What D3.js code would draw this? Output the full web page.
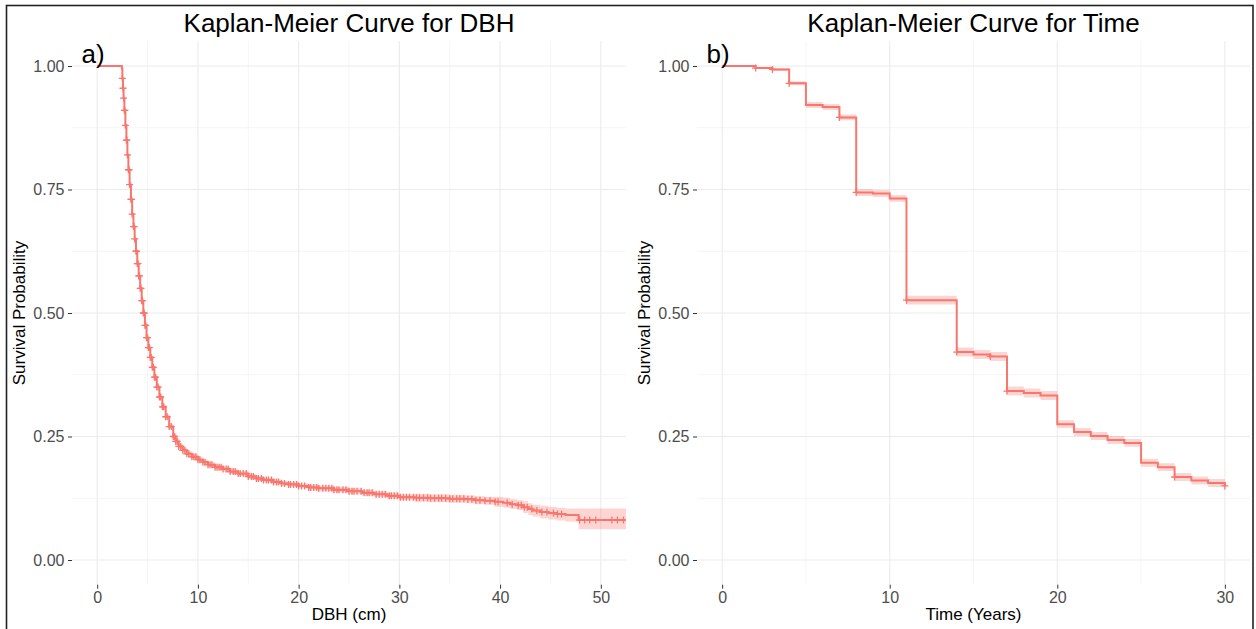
<!DOCTYPE html>
<html>
<head>
<meta charset="utf-8">
<script src="https://cdn.jsdelivr.net/npm/d3@7"></script>
<style>
  body { margin: 0; background: #fff; }
  svg { display: block; font-family: "Liberation Sans", Arial, Helvetica, sans-serif; }
  .grid-major { stroke: #ebebeb; stroke-width: 1.1; }
  .grid-minor { stroke: #f3f3f3; stroke-width: 0.8; }
  .axis text { fill: #4d4d4d; font-size: 16px; font-family: "Liberation Sans", Arial, sans-serif; }
  .axis line { stroke: #333; stroke-width: 1; }
  .axis path { display: none; }
  .km-band { fill: #F8766D; fill-opacity: 0.3; stroke: none; }
  .km-line { fill: none; stroke: #F8766D; stroke-width: 2; }
  .censor { fill: none; stroke: #F8766D; stroke-width: 1.3; }
  .title, .tag { font-size: 26px; fill: #000; }
  .axis-title { font-size: 17px; fill: #000; }
</style>
</head>
<body>
<svg width="1256" height="629"></svg>
<script>
// ---- data ----

// a) survival against DBH (cm)
var dbhTime = [0, 2.45, 2.5, 2.56, 2.62, 2.7, 2.8, 2.9, 3.0, 3.1, 3.22, 3.35, 3.47, 3.6, 3.72, 3.85, 3.98, 4.12, 4.27, 4.42,
  4.58, 4.74, 4.9, 5.08, 5.27, 5.47, 5.68, 5.92, 6.18, 6.47, 6.8, 7.15, 7.55, 7.8, 8.1, 8.5, 8.9, 9.4, 10, 10.5,
  11, 11.7, 12.5, 13.2, 14, 15, 15.8, 16.5, 17.5, 18.3, 19, 20, 21, 22, 23.5, 25, 26.3, 27.5, 28.8, 30,
  31.5, 33, 35, 36.5, 37.5, 38.5, 39.5, 40.3, 41, 41.7, 42.3, 42.8, 43.2, 44, 44.8, 45.6, 46.5, 47.8, 55];
var dbhSurv = [1.0, 0.995, 0.975, 0.955, 0.935, 0.91, 0.88, 0.85, 0.82, 0.79, 0.76, 0.73, 0.70, 0.675, 0.65, 0.625, 0.60, 0.575, 0.55, 0.525,
  0.50, 0.475, 0.45, 0.43, 0.41, 0.39, 0.37, 0.35, 0.33, 0.31, 0.29, 0.27, 0.25, 0.24, 0.23, 0.222, 0.215, 0.209, 0.203, 0.198,
  0.193, 0.188, 0.184, 0.179, 0.175, 0.169, 0.165, 0.162, 0.158, 0.155, 0.153, 0.150, 0.147, 0.145, 0.142, 0.139, 0.136, 0.133, 0.130, 0.127,
  0.126, 0.125, 0.124, 0.123, 0.121, 0.120, 0.118, 0.116, 0.113, 0.111, 0.107, 0.103, 0.100, 0.097, 0.095, 0.093, 0.091, 0.081, 0.081];
var dbhLower = [1.0, 0.993, 0.971, 0.951, 0.931, 0.906, 0.876, 0.846, 0.816, 0.786, 0.756, 0.726, 0.696, 0.671, 0.646, 0.621, 0.596, 0.571, 0.546, 0.521,
  0.495, 0.470, 0.445, 0.425, 0.405, 0.385, 0.365, 0.345, 0.325, 0.305, 0.285, 0.265, 0.245, 0.235, 0.225, 0.217, 0.210, 0.204, 0.198, 0.193,
  0.188, 0.183, 0.179, 0.174, 0.170, 0.164, 0.160, 0.157, 0.153, 0.150, 0.148, 0.145, 0.141, 0.139, 0.136, 0.133, 0.130, 0.127, 0.124, 0.121,
  0.118, 0.117, 0.116, 0.115, 0.113, 0.112, 0.108, 0.106, 0.103, 0.101, 0.095, 0.091, 0.088, 0.084, 0.082, 0.080, 0.078, 0.062, 0.062];
var dbhUpper = [1.0, 0.997, 0.979, 0.959, 0.939, 0.914, 0.884, 0.854, 0.824, 0.794, 0.764, 0.734, 0.704, 0.679, 0.654, 0.629, 0.604, 0.579, 0.554, 0.529,
  0.505, 0.480, 0.455, 0.435, 0.415, 0.395, 0.375, 0.355, 0.335, 0.315, 0.295, 0.275, 0.255, 0.245, 0.235, 0.227, 0.220, 0.214, 0.208, 0.203,
  0.198, 0.193, 0.189, 0.184, 0.180, 0.174, 0.170, 0.167, 0.163, 0.160, 0.158, 0.155, 0.153, 0.151, 0.148, 0.145, 0.142, 0.139, 0.136, 0.133,
  0.134, 0.133, 0.132, 0.131, 0.129, 0.128, 0.128, 0.126, 0.123, 0.121, 0.119, 0.115, 0.112, 0.110, 0.108, 0.106, 0.104, 0.104, 0.104];
// censored trees (+ marks)
var dbhCensor = [2.5, 2.56, 2.62, 2.7, 2.75, 2.8, 2.9, 2.95, 3.0, 3.1, 3.16, 3.22, 3.35, 3.41, 3.47, 3.6, 3.66, 3.72, 3.85, 3.9,
  3.98, 4.05, 4.12, 4.2, 4.27, 4.35, 4.42, 4.5, 4.58, 4.66, 4.74, 4.82, 4.9, 5.0, 5.08, 5.18, 5.27, 5.37, 5.47, 5.58,
  5.68, 5.8, 5.92, 6.05, 6.18, 6.3, 6.47, 6.6, 6.8, 6.95, 7.15, 7.35, 7.55, 7.7, 7.8, 7.95, 8.1, 8.3, 8.5, 8.7,
  8.9, 9.1, 9.4, 9.6, 9.8, 10.0, 10.2, 10.5, 10.7, 11.0, 11.2, 11.4, 11.7, 11.9, 12.1, 12.3, 12.5, 12.8, 13.0, 13.2,
  13.5, 13.7, 14.0, 14.2, 14.5, 14.8, 15.0, 15.3, 15.5, 15.8, 16.0, 16.3, 16.5, 16.8, 17.0, 17.3, 17.5, 17.8, 18.0, 18.3,
  18.6, 19.0, 19.2, 19.5, 19.8, 20.0, 20.3, 20.6, 21.0, 21.2, 21.5, 21.8, 22.0, 22.4, 22.7, 23.0, 23.3, 23.5, 23.8, 24.0,
  24.4, 24.7, 25.0, 25.3, 25.5, 25.8, 26.2, 26.5, 26.8, 27.0, 27.3, 27.7, 28.0, 28.3, 28.6, 29.0, 29.2, 29.5, 29.8, 30.1,
  30.4, 30.7, 31.0, 31.4, 31.7, 32.0, 32.4, 32.8, 33.1, 33.5, 33.9, 34.2, 34.6, 35.0, 35.3, 35.7, 36.0, 36.4, 36.8, 37.2,
  37.6, 38.0, 38.5, 39.0, 39.5, 39.8, 40.7, 41.2, 41.8, 42.1, 42.4, 42.7, 43.15, 43.65, 44.15, 44.65, 45.3, 45.7, 46.1, 47.9,
  48.4, 48.9, 49.5, 51.1, 51.65, 52.25];
var dbhTicks = [0, 10, 20, 30, 40, 50];
var dbhMinor = [5, 15, 25, 35, 45];

// b) survival against time (years)
var yearTime = [0, 2, 3, 4, 5, 6, 7, 8, 9, 10, 11, 14, 15, 16, 17, 18, 19, 20, 21, 22, 23, 24, 25, 26, 27, 28, 29, 30];
var yearSurv = [1.0, 0.996, 0.993, 0.965, 0.921, 0.917, 0.896, 0.744, 0.742, 0.732, 0.526, 0.421, 0.416, 0.412,
  0.342, 0.338, 0.333, 0.275, 0.259, 0.251, 0.243, 0.237, 0.197, 0.188, 0.168, 0.161, 0.156, 0.150];
var yearLower = [1.0, 0.994, 0.990, 0.961, 0.915, 0.911, 0.890, 0.737, 0.735, 0.725, 0.517, 0.412, 0.407, 0.403,
  0.333, 0.329, 0.324, 0.267, 0.251, 0.243, 0.235, 0.229, 0.189, 0.180, 0.160, 0.153, 0.148, 0.142];
var yearUpper = [1.0, 0.998, 0.996, 0.969, 0.927, 0.923, 0.902, 0.751, 0.749, 0.739, 0.535, 0.430, 0.425, 0.421,
  0.351, 0.347, 0.342, 0.283, 0.267, 0.259, 0.251, 0.245, 0.205, 0.196, 0.176, 0.169, 0.164, 0.158];
var yearCensor = [2, 3, 4, 7, 8, 11, 14, 16, 17, 27, 30];
var yearTicks = [0, 10, 20, 30];
var yearMinor = [5, 15, 25];

var probTicks = [0, 0.25, 0.5, 0.75, 1];
var probMinor = [0.125, 0.375, 0.625, 0.875];

// ---- layout ----
var svg = d3.select('svg');

// outer frame of the figure
svg.append('rect')
    .attr('x', 6.5).attr('y', 5.5)
    .attr('width', 1246.5).attr('height', 700)
    .attr('fill', 'none').attr('stroke', '#222').attr('stroke-width', 1.6);

var panelTop = 41.3, panelBottom = 584.7;
var yScale = d3.scaleLinear().domain([-0.05, 1.05]).range([panelBottom, panelTop]);

var panels = [
    {id: 'dbh', x0: 72, x1: 626, domain: [-2.5, 52.5], ticks: dbhTicks, minor: dbhMinor,
     title: 'Kaplan-Meier Curve for DBH', tag: 'a)', xLabel: 'DBH (cm)',
     time: dbhTime, surv: dbhSurv, lower: dbhLower, upper: dbhUpper, censor: dbhCensor},
    {id: 'year', x0: 697, x1: 1250, domain: [-1.5, 31.5], ticks: yearTicks, minor: yearMinor,
     title: 'Kaplan-Meier Curve for Time', tag: 'b)', xLabel: 'Time (Years)',
     time: yearTime, surv: yearSurv, lower: yearLower, upper: yearUpper, censor: yearCensor}
];

panels.forEach(drawPanel);

function drawPanel(p) {
    var xScale = d3.scaleLinear().domain(p.domain).range([p.x0, p.x1]);
    var g = svg.append('g').attr('class', 'panel-' + p.id);

    // grid: minor first, then major
    g.selectAll('.vminor').data(p.minor).enter().append('line')
        .attr('class', 'grid-minor')
        .attr('x1', d => xScale(d)).attr('x2', d => xScale(d))
        .attr('y1', panelTop).attr('y2', panelBottom);
    g.selectAll('.hminor').data(probMinor).enter().append('line')
        .attr('class', 'grid-minor')
        .attr('x1', p.x0).attr('x2', p.x1)
        .attr('y1', d => yScale(d)).attr('y2', d => yScale(d));
    g.selectAll('.vmajor').data(p.ticks).enter().append('line')
        .attr('class', 'grid-major')
        .attr('x1', d => xScale(d)).attr('x2', d => xScale(d))
        .attr('y1', panelTop).attr('y2', panelBottom);
    g.selectAll('.hmajor').data(probTicks).enter().append('line')
        .attr('class', 'grid-major')
        .attr('x1', p.x0).attr('x2', p.x1)
        .attr('y1', d => yScale(d)).attr('y2', d => yScale(d));

    // axes
    g.append('g')
        .attr('class', 'axis')
        .attr('transform', 'translate(' + p.x0 + ',0)')
        .call(d3.axisLeft(yScale).tickValues(probTicks).tickFormat(d3.format('.2f')).tickSize(4).tickPadding(3.5));
    g.append('g')
        .attr('class', 'axis')
        .attr('transform', 'translate(0,' + panelBottom + ')')
        .call(d3.axisBottom(xScale).tickValues(p.ticks).tickFormat(d3.format('d')).tickSize(4).tickPadding(3));

    // clip the curve to the panel
    svg.append('clipPath').attr('id', 'clip-' + p.id)
        .append('rect')
        .attr('x', p.x0).attr('y', panelTop)
        .attr('width', p.x1 - p.x0).attr('height', panelBottom - panelTop);

    var rows = p.time.map(function(t, i) {
        return {t: t, s: p.surv[i], lo: p.lower[i], hi: p.upper[i]};
    });

    var band = d3.area().curve(d3.curveStepAfter)
        .x(d => xScale(d.t))
        .y0(d => yScale(d.lo))
        .y1(d => yScale(d.hi));
    var line = d3.line().curve(d3.curveStepAfter)
        .x(d => xScale(d.t))
        .y(d => yScale(d.s));

    var plot = g.append('g').attr('clip-path', 'url(#clip-' + p.id + ')');
    plot.append('path').attr('class', 'km-band').attr('d', band(rows));
    plot.append('path').attr('class', 'km-line').attr('d', line(rows));

    // censor marks sit on the step curve
    plot.selectAll('.censor').data(p.censor).enter().append('path')
        .attr('class', 'censor')
        .attr('d', 'M-3.5,0h7M0,-3.5v7')
        .attr('transform', function(t) {
            var i = d3.bisectRight(p.time, t) - 1;
            return 'translate(' + [xScale(t), yScale(p.surv[i])] + ')';
        });

    // texts
    var cx = (p.x0 + p.x1) / 2;
    g.append('text').attr('class', 'title')
        .attr('x', cx).attr('y', 32).attr('text-anchor', 'middle')
        .text(p.title);
    g.append('text').attr('class', 'tag')
        .attr('x', p.x0 + 9.5).attr('y', 63)
        .text(p.tag);
    g.append('text').attr('class', 'axis-title')
        .attr('x', cx).attr('y', 620).attr('text-anchor', 'middle')
        .text(p.xLabel);
    g.append('text').attr('class', 'axis-title')
        .attr('transform', 'translate(' + (p.x0 - 47) + ',' + yScale(0.5) + ') rotate(-90)')
        .attr('text-anchor', 'middle')
        .text('Survival Probability');
}
</script>
</body>
</html>
